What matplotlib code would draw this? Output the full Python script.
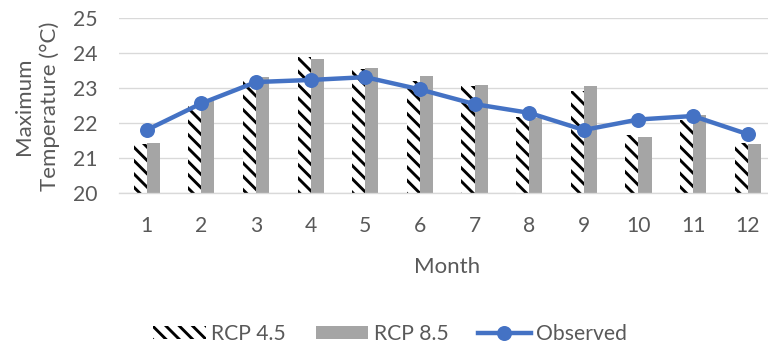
import matplotlib
matplotlib.use("Agg")
import matplotlib.pyplot as plt
import numpy as np
from matplotlib.lines import Line2D
from matplotlib.patches import Patch

months = ["1", "2", "3", "4", "5", "6", "7", "8", "9", "10", "11", "12"]
rcp45 = [21.40, 22.58, 23.23, 23.88, 23.55, 23.19, 23.06, 22.18, 22.92, 21.66, 22.08, 21.43]
rcp85 = [21.43, 22.65, 23.31, 23.82, 23.57, 23.34, 23.09, 22.13, 23.06, 21.59, 22.22, 21.40]
observed = [21.80, 22.56, 23.17, 23.23, 23.31, 22.96, 22.54, 22.29, 21.80, 22.10, 22.20, 21.68]
yticks = [20, 21, 22, 23, 24, 25]

TEXT = "#595959"
GRID = "#D9D9D9"
GRAY = "#A5A5A5"
BLUE = "#4472C4"

plt.rcParams["font.family"] = ["Lato", "DejaVu Sans"]
plt.rcParams["hatch.linewidth"] = 2.6

DPI = 80
fig = plt.figure(figsize=(768 / DPI, 345 / DPI), dpi=DPI)
ax = fig.add_axes([119.4 / 768, 1 - 193 / 345, (775 - 119.4) / 768, 175 / 345])

x = np.arange(len(months))
w = 0.24
ax.bar(x - w / 2, rcp45, width=w, facecolor="white", edgecolor="black",
       linewidth=0, hatch="\\\\", zorder=2)
ax.bar(x + w / 2, rcp85, width=w, color=GRAY, linewidth=0, zorder=2)
ax.plot(x, observed, color=BLUE, linewidth=4.0, marker="o", markersize=13.5,
        markeredgewidth=0, zorder=4, solid_capstyle="round", solid_joinstyle="round")

ax.set_ylim(20, 25)
ax.set_xlim(-0.5, len(months) - 0.5)
ax.set_yticks(yticks)
ax.set_yticklabels([str(v) for v in yticks])
ax.set_xticks(x)
ax.set_xticklabels(months)
ax.grid(axis="y", color=GRID, linewidth=1.2, zorder=0)
ax.set_axisbelow(True)
for s in ["top", "right", "left"]:
    ax.spines[s].set_visible(False)
ax.spines["bottom"].set_color(GRID)
ax.spines["bottom"].set_linewidth(1.2)
ax.tick_params(axis="both", length=0, labelsize=19, colors=TEXT)
ax.tick_params(axis="y", pad=20)
ax.tick_params(axis="x", pad=21)

ax.set_xlabel("Month", fontsize=20, color=TEXT, labelpad=19)
fig.text(37 / 768, 1 - 106 / 345, "Maximum\nTemperature (°C)", rotation=90,
         ha="center", va="center", fontsize=20, color=TEXT, linespacing=1.3)

handles = [
    Patch(facecolor="white", edgecolor="black", linewidth=0, hatch="\\\\"),
    Patch(facecolor=GRAY, linewidth=0),
    Line2D([], [], color=BLUE, linewidth=4.0, marker="o", markersize=13.5, markeredgewidth=0),
]
fig.legend(handles, ["RCP 4.5", "RCP 8.5", "Observed"], loc="center",
           bbox_to_anchor=(390 / 768, 1 - 334 / 345), ncol=3, frameon=False,
           fontsize=19, labelcolor=TEXT, handlelength=2.5, handleheight=0.5,
           handletextpad=0.25, columnspacing=1.4, borderpad=0, borderaxespad=0)

fig.savefig("out.png", dpi=DPI)
